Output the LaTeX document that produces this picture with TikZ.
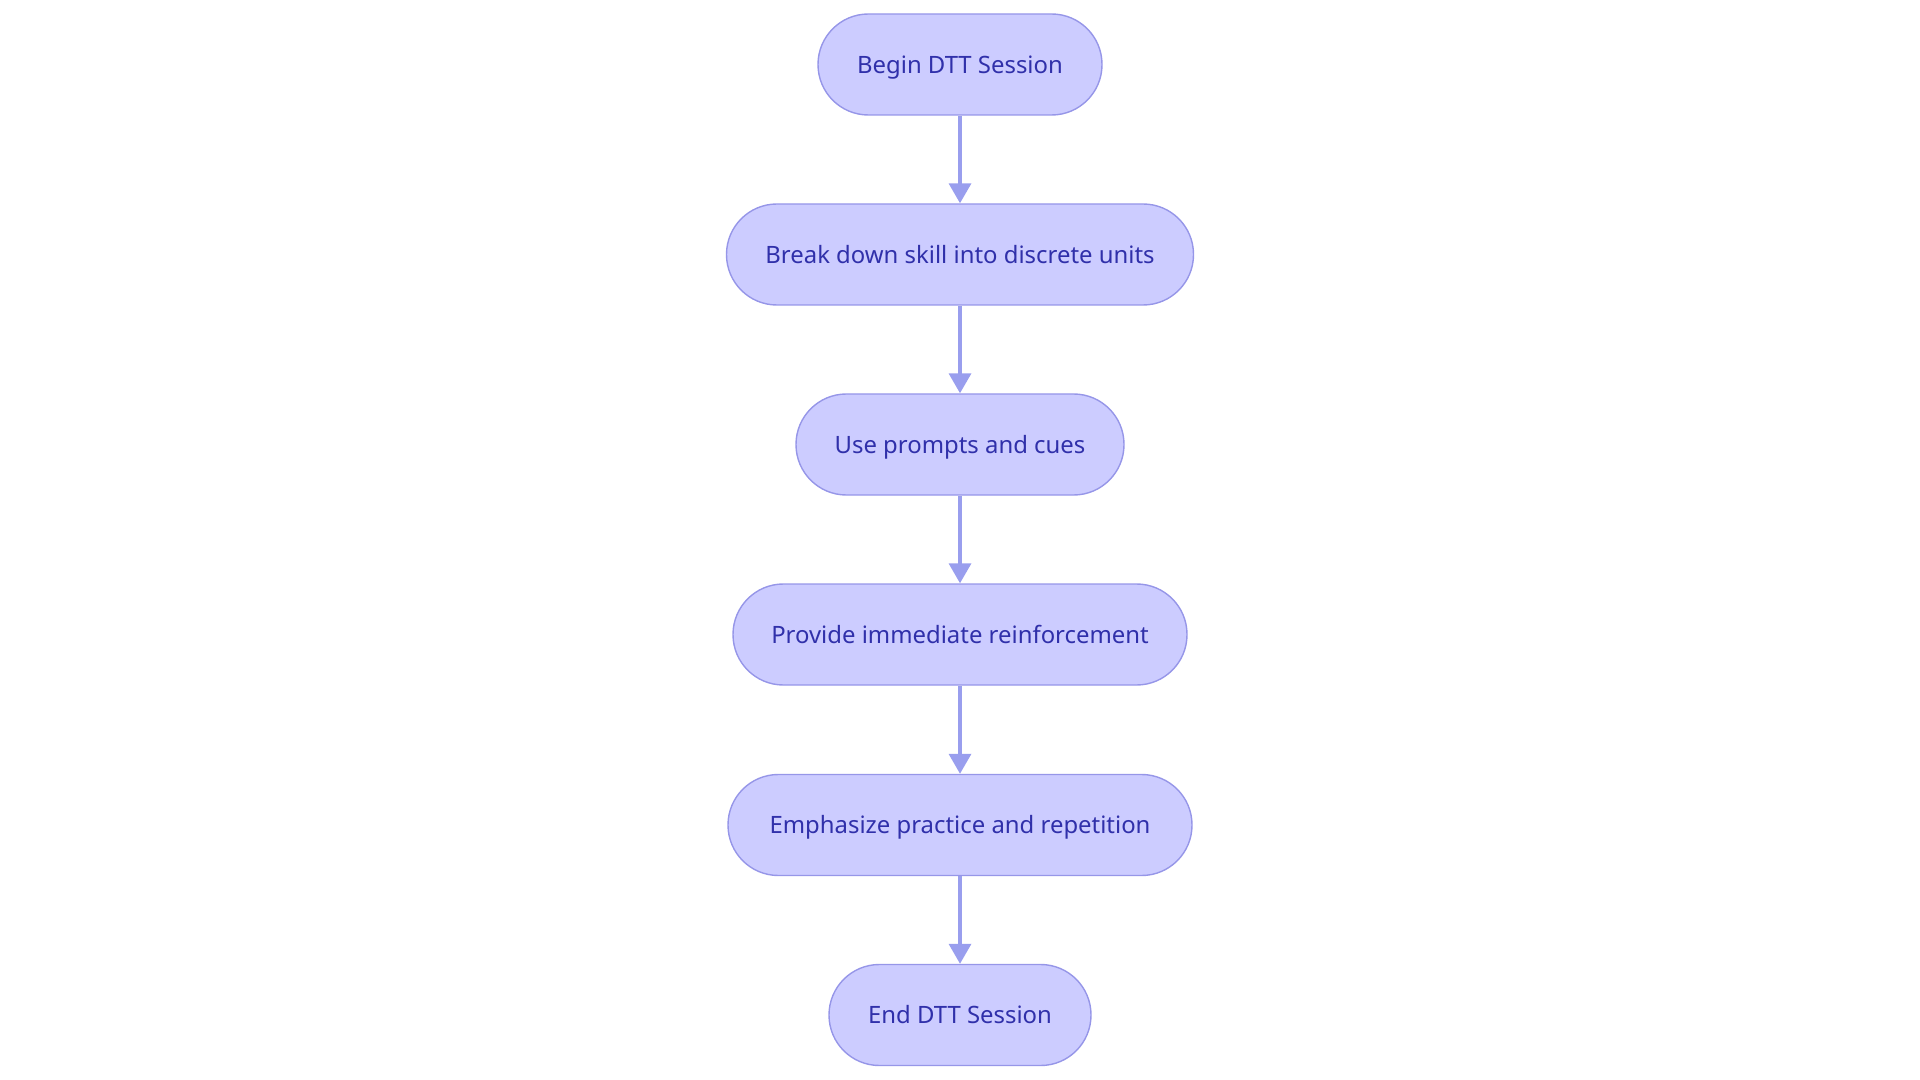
\documentclass[tikz,border=0pt]{standalone}
\usepackage{fontspec}
\setmainfont{Noto Sans}
\usetikzlibrary{arrows.meta, positioning}
\definecolor{pFill}{RGB}{204,204,255}
\definecolor{pLine}{RGB}{150,150,232}
\definecolor{pText}{RGB}{48,48,170}
\definecolor{pArrow}{RGB}{153,158,238}
\tikzset{
  pill/.style={draw=pLine, fill=pFill, text=pText, line width=1pt, rounded corners=1.26cm,
               font=\fontsize{17}{21}\selectfont, inner xsep=0pt, inner ysep=0pt,
               text height=12.2pt, text depth=0pt, minimum height=2.525cm},
  flow/.style={-{Triangle[length=0.5cm, width=0.55cm]}, pArrow, line width=2.5pt},
}

\begin{document}
\begin{tikzpicture}
    \useasboundingbox (0,0) rectangle (48,-27);
    \node[pill, minimum width=7.1cm]   (begin)   at (24,-1.6125)  {Begin DTT Session};
    \node[pill, minimum width=11.675cm] (split)  at (24,-6.3625)  {Break down skill into discrete units};
    \node[pill, minimum width=8.2cm]   (prompts) at (24,-11.1125) {Use prompts and cues};
    \node[pill, minimum width=11.35cm] (reinf)   at (24,-15.8625) {Provide immediate reinforcement};
    \node[pill, minimum width=11.6cm]  (practice) at (24,-20.625) {Emphasize practice and repetition};
    \node[pill, minimum width=6.55cm]  (finish)  at (24,-25.375)  {End DTT Session};
    \draw[flow] (begin) -- (split);
    \draw[flow] (split) -- (prompts);
    \draw[flow] (prompts) -- (reinf);
    \draw[flow] (reinf) -- (practice);
    \draw[flow] (practice) -- (finish);
  \end{tikzpicture}
\end{document}
